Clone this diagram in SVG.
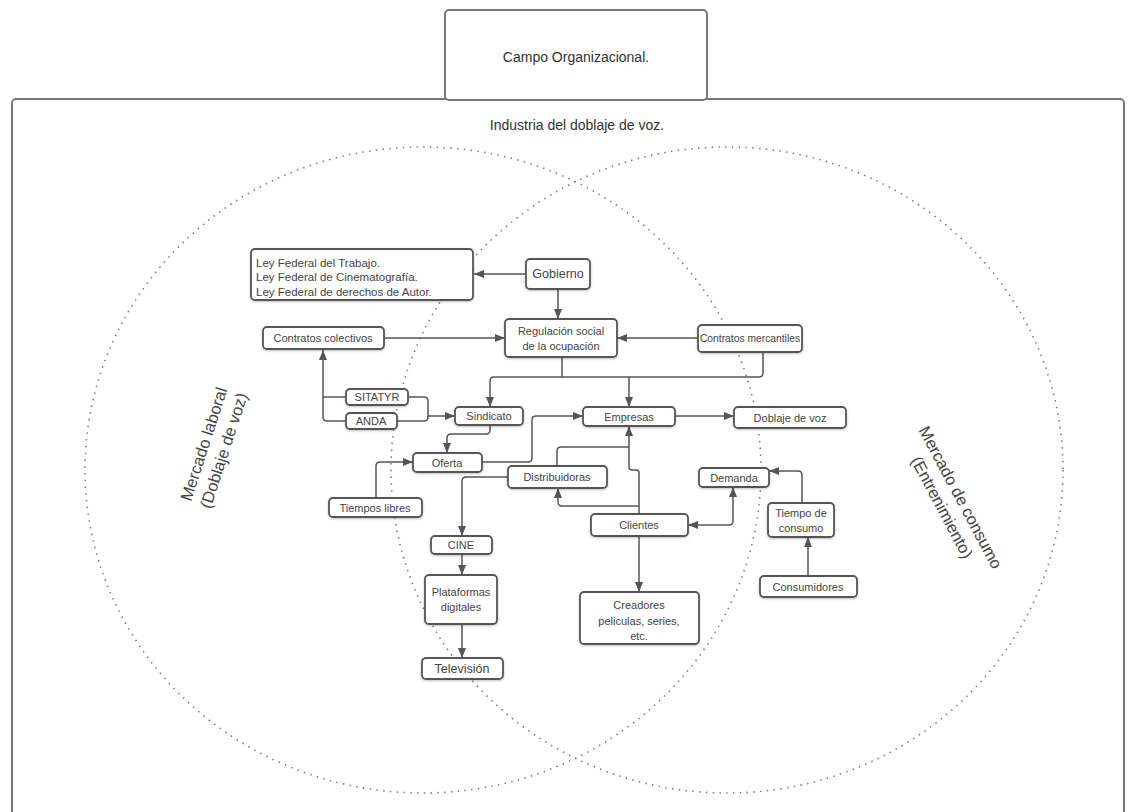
<svg xmlns="http://www.w3.org/2000/svg" width="1128" height="812" viewBox="0 0 1128 812">
<defs>
<marker id="arr" viewBox="0 0 10 8" refX="10" refY="4" markerWidth="10" markerHeight="8" markerUnits="userSpaceOnUse" orient="auto-start-reverse">
<path d="M0,0 L10,4 L0,8 z" fill="#555"/>
</marker>
<filter id="sh" x="-10%" y="-10%" width="120%" height="130%">
<feDropShadow dx="0" dy="1" stdDeviation="0.8" flood-color="#000" flood-opacity="0.25"/>
</filter>
</defs>
<style>
.box{fill:#fff;stroke:#555;stroke-width:1.8;filter:url(#sh)}
.frame{fill:#fff;stroke:#777;stroke-width:2}
.t{font-family:"Liberation Sans",Arial,sans-serif;font-size:11px;fill:#444;text-anchor:middle;dominant-baseline:central}
.tl{font-family:"Liberation Sans",Arial,sans-serif;font-size:11.5px;fill:#444}
.big{font-family:"Liberation Sans",Arial,sans-serif;font-size:14px;fill:#333;text-anchor:middle;dominant-baseline:central}
.rot{font-family:"Liberation Sans",Arial,sans-serif;font-size:16.5px;fill:#444;text-anchor:middle}
.c{fill:none;stroke:#555;stroke-width:1.5}
.dot{fill:none;stroke:#777;stroke-width:1.6;stroke-dasharray:1.4 5.4}
</style>
<rect width="1128" height="812" fill="#fff"/>
<g id="industria">
<rect class="frame" x="12" y="99" width="1112" height="740" rx="4"/>
<text class="big" x="577" y="125">Industria del doblaje de voz.</text>
</g>
<g id="campo">
<rect class="frame" x="445" y="10" width="262" height="90" rx="4"/>
<text class="big" x="576" y="57">Campo Organizacional.</text>
</g>
<g id="mercados">
<ellipse class="dot" cx="423" cy="470" rx="338" ry="323"/>
<ellipse class="dot" cx="727" cy="470" rx="336" ry="323"/>
<text class="rot" transform="translate(213,447) rotate(-72)"><tspan x="0" y="-4">Mercado laboral</tspan><tspan x="0" y="17">(Doblaje de voz)</tspan></text>
<text class="rot" transform="translate(952,502) rotate(62)"><tspan x="0" y="-4">Mercado de consumo</tspan><tspan x="0" y="17">(Entrenimiento)</tspan></text>
</g>
<g id="connectors">
<path class="c" d="M527,274 H474" marker-end="url(#arr)"/>
<path class="c" d="M558,289 V319" marker-end="url(#arr)"/>
<path class="c" d="M384,338 H505" marker-end="url(#arr)"/>
<path class="c" d="M698,338 H617" marker-end="url(#arr)"/>
<path class="c" d="M562,357 V377"/>
<path class="c" d="M763,352 V373 q0,4 -4,4 H494 q-4,0 -4,4 V407" marker-end="url(#arr)"/>
<path class="c" d="M629,377 V407" marker-end="url(#arr)"/>
<path class="c" d="M408,397 H424 q4,0 4,4 V416 H455" marker-end="url(#arr)"/>
<path class="c" d="M397,421 H424 q4,0 4,-4 V416"/>
<path class="c" d="M345,421 H327 q-4,0 -4,-4 V350" marker-end="url(#arr)"/>
<path class="c" d="M345,397 H323"/>
<path class="c" d="M490,425 V430 q0,4 -4,4 H451 q-4,0 -4,4 V453" marker-end="url(#arr)"/>
<path class="c" d="M482,462 H528 q4,0 4,-4 V420 q0,-4 4,-4 H583" marker-end="url(#arr)"/>
<path class="c" d="M376,498 V466 q0,-4 4,-4 H413" marker-end="url(#arr)"/>
<path class="c" d="M675,416 H734" marker-end="url(#arr)"/>
<path class="c" d="M508,477 H466 q-4,0 -4,4 V536" marker-end="url(#arr)"/>
<path class="c" d="M557,466 V451 q0,-4 4,-4 H629"/>
<path class="c" d="M639,514 V473 q0,-3 -3,-3 H632 q-3,0 -3,-3 V426" marker-end="url(#arr)"/>
<path class="c" d="M639,506 H562 q-4,0 -4,-4 V488" marker-end="url(#arr)"/>
<path class="c" d="M639,536 V592" marker-end="url(#arr)"/>
<path class="c" d="M688,525 H729 q4,0 4,-4 V487" marker-start="url(#arr)" marker-end="url(#arr)"/>
<path class="c" d="M802,503 V475 q0,-4 -4,-4 H769" marker-end="url(#arr)"/>
<path class="c" d="M808,576 V537" marker-end="url(#arr)"/>
<path class="c" d="M462,554 V575" marker-end="url(#arr)"/>
<path class="c" d="M462,624 V658" marker-end="url(#arr)"/>
</g>
<g id="leyes">
<rect class="box" x="251" y="249" width="222" height="51" rx="4"/>
<text class="tl" x="256" y="267">Ley Federal del Trabajo.</text>
<text class="tl" x="256" y="281">Ley Federal de Cinematografía.</text>
<text class="tl" x="256" y="296">Ley Federal de derechos de Autor.</text>
</g>
<g id="gobierno">
<rect class="box" x="526" y="259" width="64" height="30" rx="4"/>
<text class="t" x="558" y="274" style="font-size:12.5px">Gobierno</text>
</g>
<g id="regulacion">
<rect class="box" x="505" y="319" width="112" height="38" rx="4"/>
<text class="t" x="561" y="331">Regulación social</text>
<text class="t" x="561" y="346">de la ocupación</text>
</g>
<g id="contratos-colectivos">
<rect class="box" x="263" y="327" width="121" height="22" rx="4"/>
<text class="t" x="323" y="338">Contratos colectivos</text>
</g>
<g id="contratos-mercantiles">
<rect class="box" x="698" y="325" width="104" height="27" rx="4"/>
<text class="t" x="750" y="338" style="font-size:10.3px">Contratos mercantiles</text>
</g>
<g id="sitatyr">
<rect class="box" x="346" y="389" width="62" height="16" rx="4"/>
<text class="t" x="377" y="397">SITATYR</text>
</g>
<g id="anda">
<rect class="box" x="346" y="413" width="51" height="16" rx="4"/>
<text class="t" x="371" y="421">ANDA</text>
</g>
<g id="sindicato">
<rect class="box" x="455" y="407" width="68" height="18" rx="4"/>
<text class="t" x="489" y="416">Sindicato</text>
</g>
<g id="empresas">
<rect class="box" x="583" y="407" width="92" height="19" rx="4"/>
<text class="t" x="629" y="416.5">Empresas</text>
</g>
<g id="doblaje">
<rect class="box" x="734" y="407" width="112" height="21" rx="4"/>
<text class="t" x="790" y="417.5">Doblaje de voz</text>
</g>
<g id="oferta">
<rect class="box" x="413" y="453" width="69" height="19" rx="4"/>
<text class="t" x="447" y="462.5">Oferta</text>
</g>
<g id="distribuidoras">
<rect class="box" x="508" y="466" width="99" height="22" rx="4"/>
<text class="t" x="557" y="477">Distribuidoras</text>
</g>
<g id="tiempos-libres">
<rect class="box" x="329" y="498" width="93" height="19" rx="4"/>
<text class="t" x="375" y="507.5">Tiempos libres</text>
</g>
<g id="demanda">
<rect class="box" x="699" y="468" width="70" height="19" rx="4"/>
<text class="t" x="734" y="477.5">Demanda</text>
</g>
<g id="clientes">
<rect class="box" x="591" y="514" width="97" height="22" rx="4"/>
<text class="t" x="639" y="525">Clientes</text>
</g>
<g id="tiempo-consumo">
<rect class="box" x="768" y="503" width="66" height="34" rx="4"/>
<text class="t" x="801" y="513">Tiempo de</text>
<text class="t" x="801" y="528">consumo</text>
</g>
<g id="cine">
<rect class="box" x="431" y="536" width="61" height="18" rx="4"/>
<text class="t" x="461" y="545">CINE</text>
</g>
<g id="plataformas">
<rect class="box" x="425" y="575" width="72" height="49" rx="4"/>
<text class="t" x="461" y="592">Plataformas</text>
<text class="t" x="461" y="607">digitales</text>
</g>
<g id="consumidores">
<rect class="box" x="760" y="576" width="97" height="21" rx="4"/>
<text class="t" x="808" y="586.5">Consumidores</text>
</g>
<g id="creadores">
<rect class="box" x="580" y="592" width="119" height="52" rx="4"/>
<text class="t" x="639" y="605">Creadores</text>
<text class="t" x="639" y="621">peliculas, series,</text>
<text class="t" x="639" y="636">etc.</text>
</g>
<g id="television">
<rect class="box" x="422" y="658" width="81" height="21" rx="4"/>
<text class="t" x="462" y="668.5" style="font-size:12.5px">Televisión</text>
</g>
</svg>
